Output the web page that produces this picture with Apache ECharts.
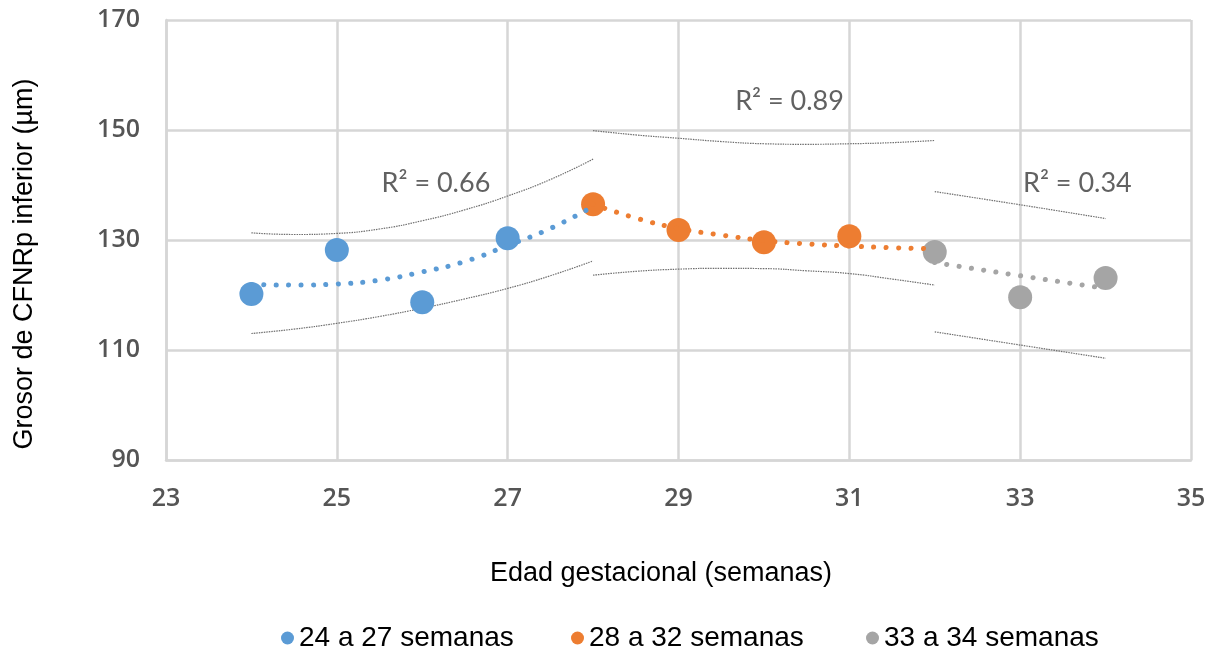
<!DOCTYPE html>
<html>
<head>
<meta charset="utf-8">
<script src="https://cdn.jsdelivr.net/npm/echarts@6/dist/echarts.min.js"></script>
<style>
  html, body { margin: 0; padding: 0; background: #ffffff; }
  #chart { width: 1218px; height: 657px; }
</style>
</head>
<body>
<div id="chart"></div>
<script>
// Measured thickness by gestational week, one array per group
const grupo1 = [[24, 120.2], [25, 128.2], [26, 118.7], [27, 130.3]];
const grupo2 = [[28, 136.5], [29, 131.8], [30, 129.6], [31, 130.7]];
const grupo3 = [[32, 127.8], [33, 119.6], [34, 123.1]];

// Fitted trend curves
const tendencia1 = [[24, 121.9], [24.5, 121.8], [25, 122.0], [25.5, 122.7], [26, 124.2], [26.5, 126.1], [27, 129.0], [27.5, 132.1], [28, 136.1]];
const tendencia2 = [[28, 136.5], [28.5, 134.0], [29, 132.1], [29.5, 130.9], [30, 129.9], [30.5, 129.3], [31, 128.9], [31.5, 128.6], [32, 128.4]];
const tendencia3 = [[32, 125.9], [33, 123.5], [34, 121.2]];

// Confidence limits around each trend
const sup1 = [[24, 131.3], [24.5, 131.0], [25, 131.2], [25.5, 132.0], [26, 133.5], [26.5, 135.5], [27, 138.0], [27.5, 141.0], [28, 144.7]];
const inf1 = [[24, 113.0], [24.5, 113.8], [25, 114.85], [25.5, 116.1], [26, 117.6], [26.5, 119.3], [27, 121.2], [27.5, 123.5], [28, 126.2]];
const sup2 = [[28, 149.9], [28.5, 149.1], [29, 148.5], [29.5, 147.9], [30, 147.5], [30.5, 147.4], [31, 147.5], [31.5, 147.7], [32, 148.1]];
const inf2 = [[28, 123.6], [28.5, 124.3], [29, 124.7], [29.5, 124.85], [30, 124.8], [30.5, 124.4], [31, 123.9], [31.5, 122.9], [32, 121.8]];
const sup3 = [[32, 138.8], [33, 136.4], [34, 133.9]];
const inf3 = [[32, 113.3], [33, 110.9], [34, 108.5]];

// R² annotations: [x, y, text]
const etiquetasR2 = [[26.16, 140.4, 'R² = 0.66'], [30.3, 155.3, 'R² = 0.89'], [33.67, 140.4, 'R² = 0.34']];

const nombres = ['24 a 27 semanas', '28 a 32 semanas', '33 a 34 semanas'];
const colores = ['#5b9bd5', '#ed7d31', '#a5a5a5'];
const ticksX = { min: 23, max: 35, interval: 2 };
const ticksY = { min: 90, max: 170, interval: 20 };

const gridColor = '#d6d6d6';
const tickFont = { fontFamily: 'Open Sans', fontWeight: 600, fontSize: 25, color: '#555555' };

function puntos(name, data, color) {
  return {
    name: name, type: 'scatter', data: data, symbol: 'circle', symbolSize: 24,
    itemStyle: { color: color, opacity: 1 }, z: 2
  };
}
function tendencia(data, color) {
  return {
    type: 'line', data: data, smooth: true, showSymbol: false, silent: true, z: 3,
    lineStyle: { color: color, width: 5, type: [0.1, 12.3], cap: 'round' }
  };
}
function limite(data) {
  return {
    type: 'line', data: data, smooth: true, showSymbol: false, silent: true, z: 1,
    lineStyle: { color: '#6f6f6f', width: 1.2, type: [1.5, 1] }
  };
}

const chart = echarts.init(document.getElementById('chart'), null, { renderer: 'canvas' });

function leyenda(i, left) {
  return {
    data: [nombres[i]], left: left, top: 624, padding: 0,
    icon: 'circle', itemWidth: 13, itemHeight: 13,
    textStyle: { fontFamily: 'Liberation Sans', fontSize: 28, color: '#000000' }
  };
}

chart.setOption({
  animation: false,
  backgroundColor: '#ffffff',
  grid: { left: 166, right: 27, top: 20, bottom: 197, containLabel: false },
  xAxis: {
    type: 'value', min: ticksX.min, max: ticksX.max, interval: ticksX.interval,
    name: 'Edad gestacional (semanas)', nameLocation: 'middle', nameGap: 100,
    nameTextStyle: { fontFamily: 'Liberation Sans', fontSize: 27, color: '#000000', padding: [0, 35, 0, 0] },
    axisLine: { show: true, lineStyle: { color: gridColor, width: 2.5 } },
    axisTick: { show: false },
    axisLabel: Object.assign({ margin: 26 }, tickFont),
    splitLine: { show: true, lineStyle: { color: gridColor, width: 2.5 } }
  },
  yAxis: {
    type: 'value', min: ticksY.min, max: ticksY.max, interval: ticksY.interval,
    name: 'Grosor de CFNRp inferior (µm)', nameLocation: 'middle', nameGap: 128,
    nameTextStyle: { fontFamily: 'Liberation Sans', fontSize: 27, color: '#000000', padding: [0, 48, 0, 0] },
    axisLine: { show: true, lineStyle: { color: gridColor, width: 2.5 } },
    axisTick: { show: false },
    axisLabel: Object.assign({ margin: 26 }, tickFont),
    splitLine: { show: true, lineStyle: { color: gridColor, width: 2.5 } }
  },
  legend: [leyenda(0, 281), leyenda(1, 571), leyenda(2, 866)],
  series: [
    limite(sup1), limite(inf1), limite(sup2), limite(inf2), limite(sup3), limite(inf3),
    puntos(nombres[0], grupo1, colores[0]),
    puntos(nombres[1], grupo2, colores[1]),
    puntos(nombres[2], grupo3, colores[2]),
    tendencia(tendencia1, colores[0]),
    tendencia(tendencia2, colores[1]),
    tendencia(tendencia3, colores[2]),
    {
      type: 'scatter', silent: true, symbolSize: 0, z: 4,
      data: etiquetasR2.map(function (d) { return { value: [d[0], d[1]], name: d[2] }; }),
      label: {
        show: true, position: 'inside', formatter: '{b}',
        fontFamily: 'Lato', fontSize: 27, color: '#3a3a3a'
      }
    }
  ]
});
</script>
</body>
</html>
